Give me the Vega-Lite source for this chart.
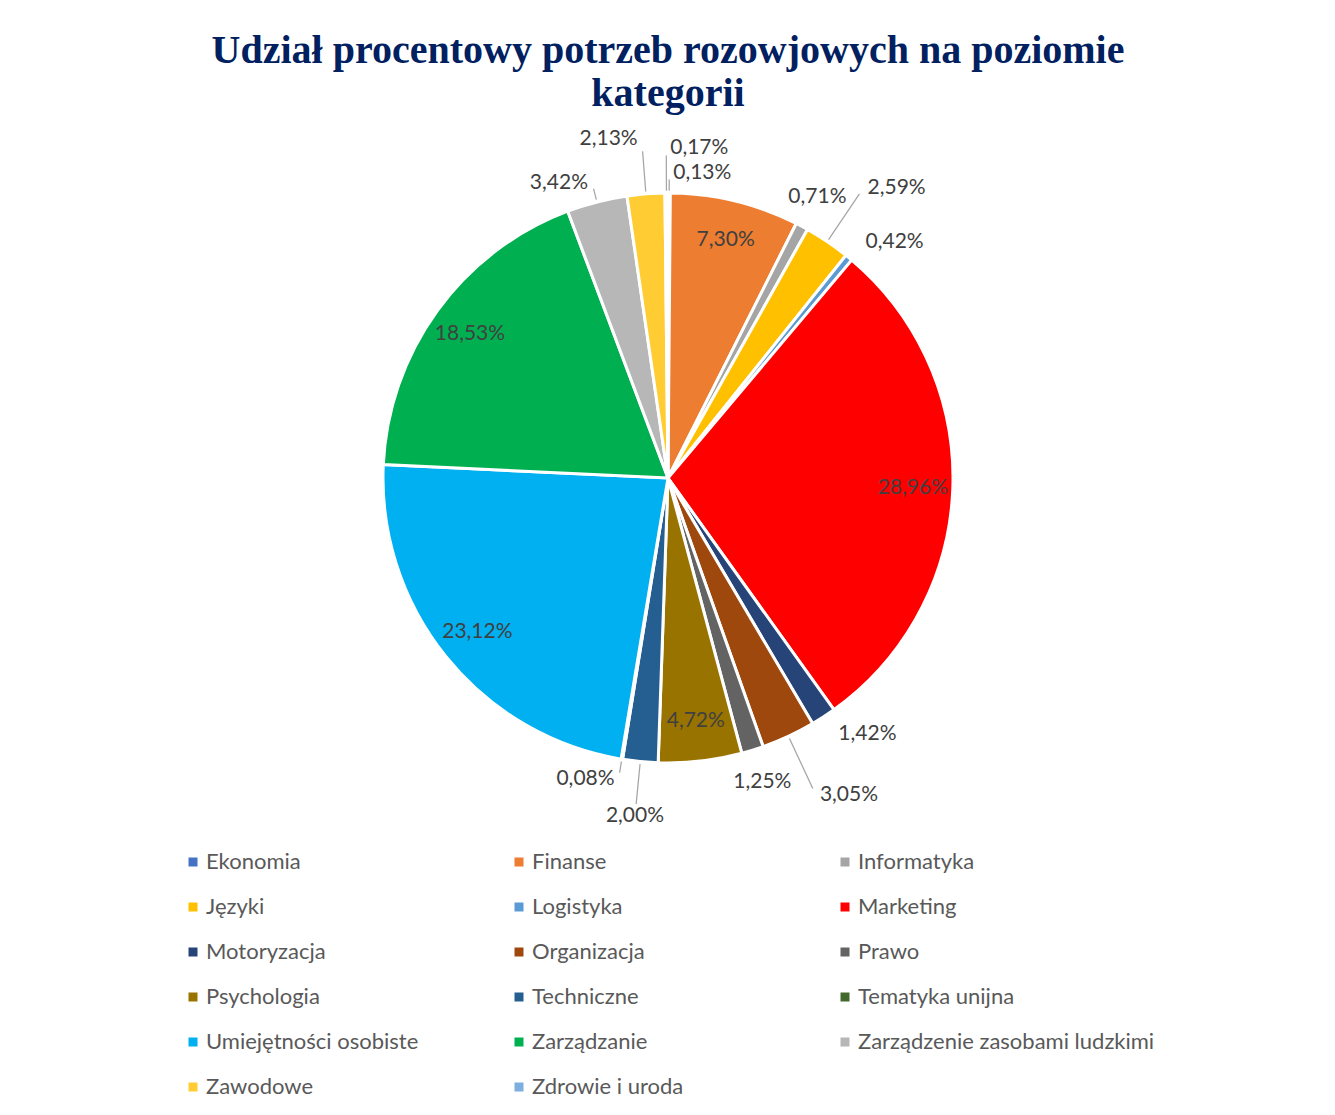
{
  "$schema": "https://vega.github.io/schema/vega-lite/v6.json",
  "autosize": {"type": "none"},
  "width": 1336,
  "height": 696,
  "padding": {"left": 0, "top": 130, "right": 0, "bottom": 289},
  "background": "white",
  "title": {
    "text": ["Udział procentowy potrzeb rozowjowych na poziomie", "kategorii"],
    "font": "Liberation Serif",
    "fontSize": 40,
    "fontWeight": "bold",
    "color": "#002060",
    "anchor": "middle",
    "offset": 14,
    "lineHeight": 43
  },
  "data": {
    "values": [
      {"i": 1, "kategoria": "Ekonomia", "wartosc": 0.13},
      {"i": 2, "kategoria": "Finanse", "wartosc": 7.30},
      {"i": 3, "kategoria": "Informatyka", "wartosc": 0.71},
      {"i": 4, "kategoria": "Języki", "wartosc": 2.59},
      {"i": 5, "kategoria": "Logistyka", "wartosc": 0.42},
      {"i": 6, "kategoria": "Marketing", "wartosc": 28.96},
      {"i": 7, "kategoria": "Motoryzacja", "wartosc": 1.42},
      {"i": 8, "kategoria": "Organizacja", "wartosc": 3.05},
      {"i": 9, "kategoria": "Prawo", "wartosc": 1.25},
      {"i": 10, "kategoria": "Psychologia", "wartosc": 4.72},
      {"i": 11, "kategoria": "Techniczne", "wartosc": 2.00},
      {"i": 12, "kategoria": "Tematyka unijna", "wartosc": 0.08},
      {"i": 13, "kategoria": "Umiejętności osobiste", "wartosc": 23.12},
      {"i": 14, "kategoria": "Zarządzanie", "wartosc": 18.53},
      {"i": 15, "kategoria": "Zarządzenie zasobami ludzkimi", "wartosc": 3.42},
      {"i": 16, "kategoria": "Zawodowe", "wartosc": 2.13},
      {"i": 17, "kategoria": "Zdrowie i uroda", "wartosc": 0.17}
    ]
  },
  "transform": [
    {"window": [{"op": "sum", "field": "wartosc", "as": "koniec"}], "sort": [{"field": "i"}], "frame": [null, 0]},
    {"calculate": "datum.koniec - datum.wartosc", "as": "poczatek"},
    {"calculate": "datum.koniec - datum.wartosc / 2", "as": "srodek"},
    {"calculate": "datum.srodek + 0.001", "as": "srodek2"},
    {"calculate": "replace(format(datum.wartosc, '.2f'), '.', ',') + '%'", "as": "etykieta"}
  ],
  "layer": [
    {
      "mark": {"type": "arc", "outerRadius": 285, "stroke": "white", "strokeWidth": 3},
      "encoding": {
        "theta": {"field": "poczatek", "type": "quantitative", "stack": null, "scale": {"domain": [0, 100]}},
        "theta2": {"field": "koniec"},
        "color": {
          "field": "kategoria",
          "type": "nominal",
          "scale": {
            "domain": ["Ekonomia", "Finanse", "Informatyka", "Języki", "Logistyka", "Marketing", "Motoryzacja", "Organizacja", "Prawo", "Psychologia", "Techniczne", "Tematyka unijna", "Umiejętności osobiste", "Zarządzanie", "Zarządzenie zasobami ludzkimi", "Zawodowe", "Zdrowie i uroda"],
            "range": ["#4472C4", "#ED7D31", "#A5A5A5", "#FFC000", "#5B9BD5", "#FF0000", "#264478", "#9E480E", "#636363", "#997300", "#255E91", "#43682B", "#00B0F0", "#00B050", "#B7B7B7", "#FFCD33", "#7CAFDD"]
          },
          "legend": {
            "title": null,
            "orient": "none",
            "legendX": 182,
            "legendY": 721,
            "direction": "horizontal",
            "columns": 3,
            "gridAlign": "all",
            "columnPadding": 5,
            "rowPadding": 23,
            "symbolType": "square",
            "symbolSize": 81,
            "symbolStrokeWidth": 0,
            "labelFont": "Lato",
            "labelFontSize": 22,
            "labelColor": "#595959",
            "labelOffset": 2,
            "labelLimit": 400
          }
        }
      }
    },
    {
      "transform": [{"filter": "datum.wartosc >= 4"}],
      "mark": {"type": "text", "radius": 245, "font": "Lato", "fontSize": 21, "color": "#404040", "align": "center", "baseline": "middle"},
      "encoding": {
        "theta": {"field": "srodek", "type": "quantitative", "stack": null, "scale": {"domain": [0, 100]}},
        "text": {"field": "etykieta"}
      }
    },
    {
      "transform": [{"filter": "indexof(['Ekonomia', 'Logistyka', 'Motoryzacja'], datum.kategoria) >= 0"}],
      "mark": {"type": "text", "radius": 305, "dx": 4, "font": "Lato", "fontSize": 21, "color": "#404040", "align": "left", "baseline": "middle"},
      "encoding": {
        "theta": {"field": "srodek", "type": "quantitative", "stack": null, "scale": {"domain": [0, 100]}},
        "text": {"field": "etykieta"}
      }
    },
    {
      "transform": [{"filter": "datum.kategoria == 'Zdrowie i uroda'"}],
      "mark": {"type": "text", "radius": 330, "dx": 4, "font": "Lato", "fontSize": 21, "color": "#404040", "align": "left", "baseline": "middle"},
      "encoding": {
        "theta": {"field": "srodek", "type": "quantitative", "stack": null, "scale": {"domain": [0, 100]}},
        "text": {"field": "etykieta"}
      }
    },
    {
      "transform": [{"filter": "indexof(['Języki', 'Organizacja'], datum.kategoria) >= 0"}],
      "mark": {"type": "text", "radius": 350, "dx": 4, "font": "Lato", "fontSize": 21, "color": "#404040", "align": "left", "baseline": "middle"},
      "encoding": {
        "theta": {"field": "srodek", "type": "quantitative", "stack": null, "scale": {"domain": [0, 100]}},
        "text": {"field": "etykieta"}
      }
    },
    {
      "transform": [{"filter": "indexof(['Zarządzenie zasobami ludzkimi', 'Tematyka unijna'], datum.kategoria) >= 0"}],
      "mark": {"type": "text", "radius": 305, "dx": -4, "font": "Lato", "fontSize": 21, "color": "#404040", "align": "right", "baseline": "middle"},
      "encoding": {
        "theta": {"field": "srodek", "type": "quantitative", "stack": null, "scale": {"domain": [0, 100]}},
        "text": {"field": "etykieta"}
      }
    },
    {
      "transform": [{"filter": "datum.kategoria == 'Zawodowe'"}],
      "mark": {"type": "text", "radius": 340, "dx": -4, "font": "Lato", "fontSize": 21, "color": "#404040", "align": "right", "baseline": "middle"},
      "encoding": {
        "theta": {"field": "srodek", "type": "quantitative", "stack": null, "scale": {"domain": [0, 100]}},
        "text": {"field": "etykieta"}
      }
    },
    {
      "transform": [{"filter": "indexof(['Informatyka', 'Prawo'], datum.kategoria) >= 0"}],
      "mark": {"type": "text", "radius": 318, "font": "Lato", "fontSize": 21, "color": "#404040", "align": "center", "baseline": "middle"},
      "encoding": {
        "theta": {"field": "srodek", "type": "quantitative", "stack": null, "scale": {"domain": [0, 100]}},
        "text": {"field": "etykieta"}
      }
    },
    {
      "transform": [{"filter": "datum.kategoria == 'Techniczne'"}],
      "mark": {"type": "text", "radius": 340, "font": "Lato", "fontSize": 21, "color": "#404040", "align": "center", "baseline": "middle"},
      "encoding": {
        "theta": {"field": "srodek", "type": "quantitative", "stack": null, "scale": {"domain": [0, 100]}},
        "text": {"field": "etykieta"}
      }
    },
    {
      "transform": [{"filter": "indexof(['Ekonomia', 'Zarządzenie zasobami ludzkimi', 'Tematyka unijna'], datum.kategoria) >= 0"}],
      "mark": {"type": "arc", "radius": 298, "radius2": 288, "filled": false, "color": "#A6A6A6", "strokeWidth": 1.25},
      "encoding": {
        "theta": {"field": "srodek", "type": "quantitative", "stack": null, "scale": {"domain": [0, 100]}},
        "theta2": {"field": "srodek2"}
      }
    },
    {
      "transform": [{"filter": "datum.kategoria == 'Zdrowie i uroda'"}],
      "mark": {"type": "arc", "radius": 322, "radius2": 288, "filled": false, "color": "#A6A6A6", "strokeWidth": 1.25},
      "encoding": {
        "theta": {"field": "srodek", "type": "quantitative", "stack": null, "scale": {"domain": [0, 100]}},
        "theta2": {"field": "srodek2"}
      }
    },
    {
      "transform": [{"filter": "indexof(['Zawodowe', 'Techniczne'], datum.kategoria) >= 0"}],
      "mark": {"type": "arc", "radius": 327, "radius2": 288, "filled": false, "color": "#A6A6A6", "strokeWidth": 1.25},
      "encoding": {
        "theta": {"field": "srodek", "type": "quantitative", "stack": null, "scale": {"domain": [0, 100]}},
        "theta2": {"field": "srodek2"}
      }
    },
    {
      "transform": [{"filter": "indexof(['Języki', 'Organizacja'], datum.kategoria) >= 0"}],
      "mark": {"type": "arc", "radius": 342, "radius2": 288, "filled": false, "color": "#A6A6A6", "strokeWidth": 1.25},
      "encoding": {
        "theta": {"field": "srodek", "type": "quantitative", "stack": null, "scale": {"domain": [0, 100]}},
        "theta2": {"field": "srodek2"}
      }
    }
  ]
}
